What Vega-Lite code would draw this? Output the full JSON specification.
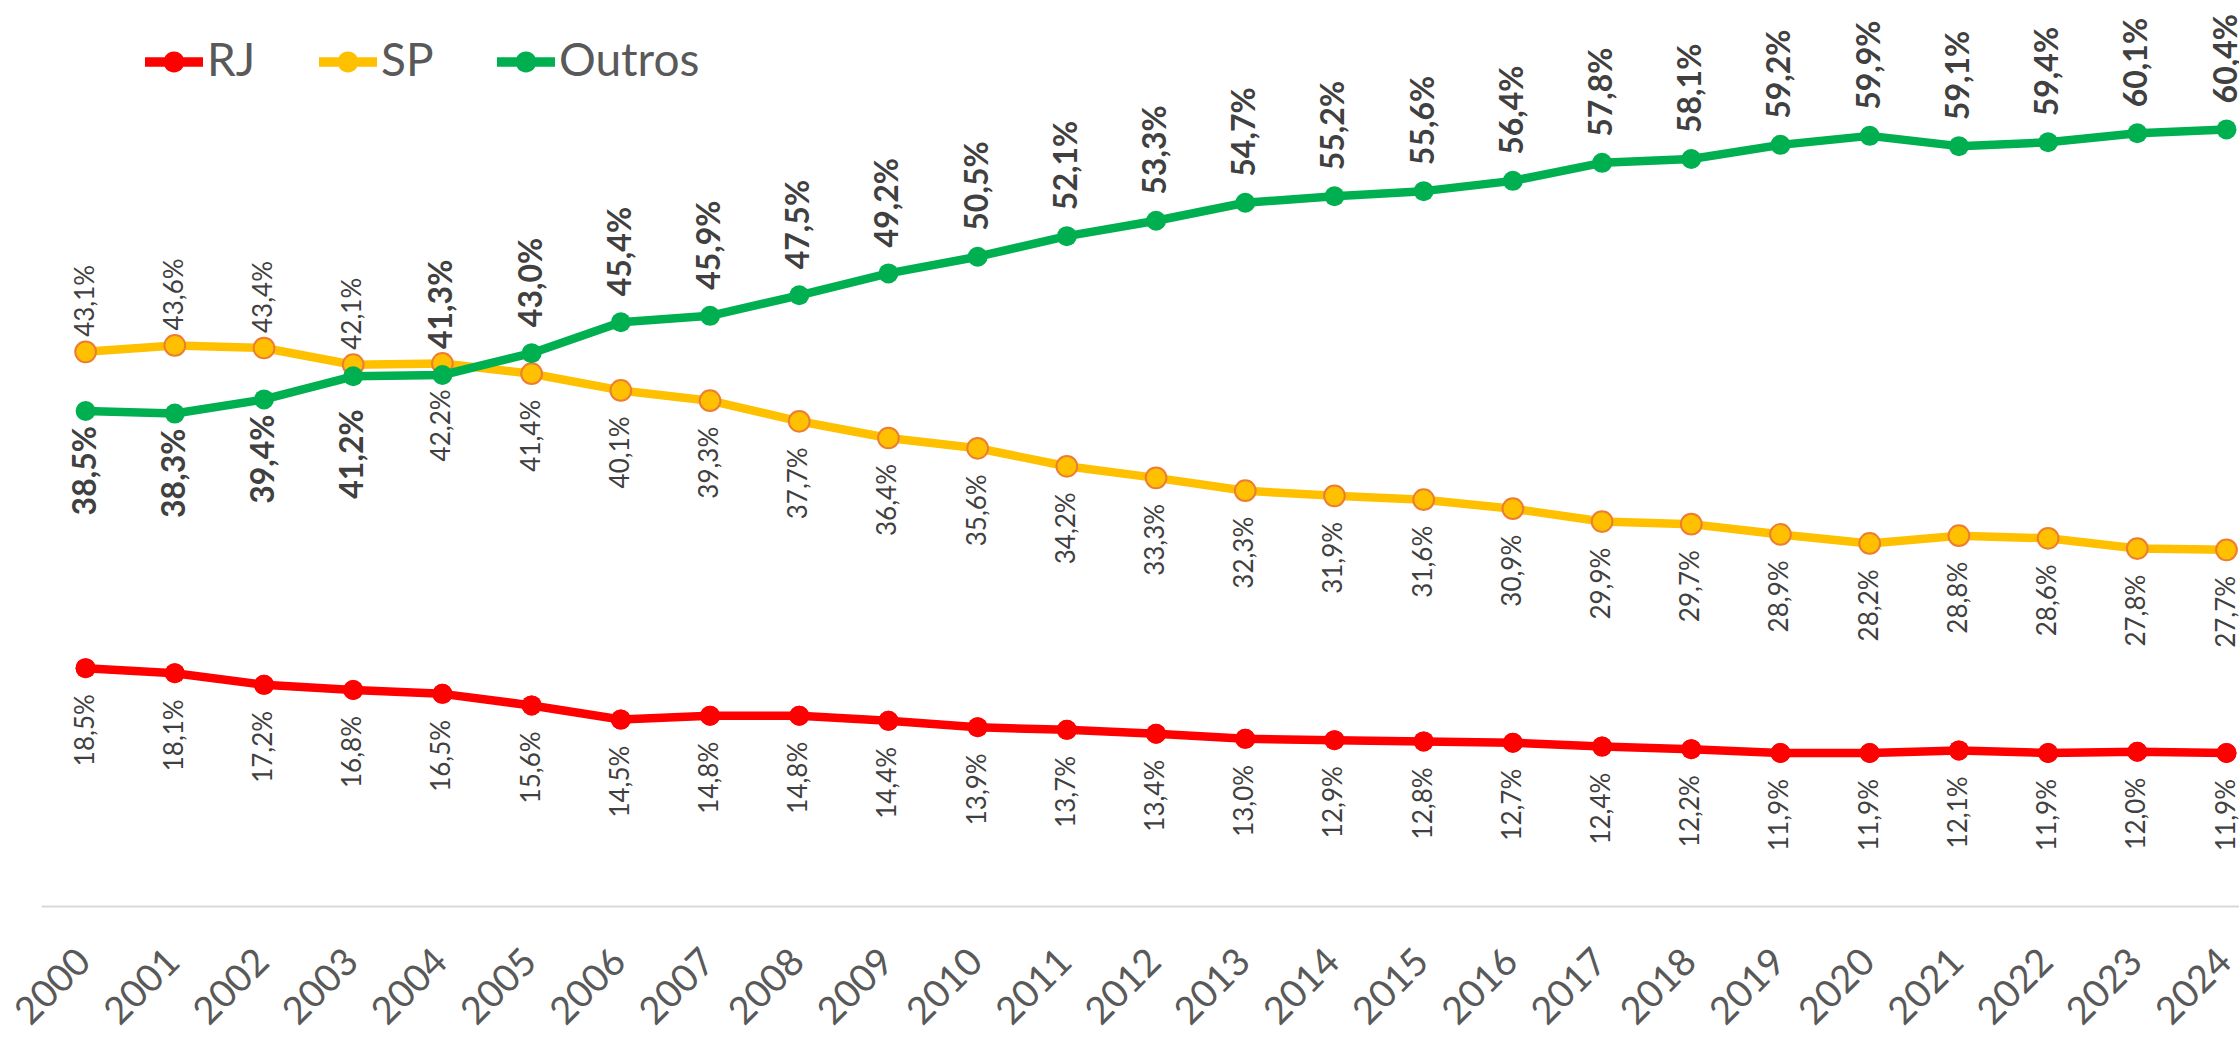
{
  "$schema": "https://vega.github.io/schema/vega-lite/v6.json",
  "width": 2198,
  "height": 900,
  "autosize": {"type": "none"},
  "padding": {"left": 41, "top": 6, "right": 0, "bottom": 132},
  "background": "white",
  "config": {"view": {"stroke": null}, "font": "Lato"},
  "data": {"values": [
    {"year": 2000, "series": "RJ", "v": 18.5}, {"year": 2001, "series": "RJ", "v": 18.1}, {"year": 2002, "series": "RJ", "v": 17.2}, {"year": 2003, "series": "RJ", "v": 16.8}, {"year": 2004, "series": "RJ", "v": 16.5},
    {"year": 2005, "series": "RJ", "v": 15.6}, {"year": 2006, "series": "RJ", "v": 14.5}, {"year": 2007, "series": "RJ", "v": 14.8}, {"year": 2008, "series": "RJ", "v": 14.8}, {"year": 2009, "series": "RJ", "v": 14.4},
    {"year": 2010, "series": "RJ", "v": 13.9}, {"year": 2011, "series": "RJ", "v": 13.7}, {"year": 2012, "series": "RJ", "v": 13.4}, {"year": 2013, "series": "RJ", "v": 13.0}, {"year": 2014, "series": "RJ", "v": 12.9},
    {"year": 2015, "series": "RJ", "v": 12.8}, {"year": 2016, "series": "RJ", "v": 12.7}, {"year": 2017, "series": "RJ", "v": 12.4}, {"year": 2018, "series": "RJ", "v": 12.2}, {"year": 2019, "series": "RJ", "v": 11.9},
    {"year": 2020, "series": "RJ", "v": 11.9}, {"year": 2021, "series": "RJ", "v": 12.1}, {"year": 2022, "series": "RJ", "v": 11.9}, {"year": 2023, "series": "RJ", "v": 12.0}, {"year": 2024, "series": "RJ", "v": 11.9},
    {"year": 2000, "series": "SP", "v": 43.1}, {"year": 2001, "series": "SP", "v": 43.6}, {"year": 2002, "series": "SP", "v": 43.4}, {"year": 2003, "series": "SP", "v": 42.1}, {"year": 2004, "series": "SP", "v": 42.2},
    {"year": 2005, "series": "SP", "v": 41.4}, {"year": 2006, "series": "SP", "v": 40.1}, {"year": 2007, "series": "SP", "v": 39.3}, {"year": 2008, "series": "SP", "v": 37.7}, {"year": 2009, "series": "SP", "v": 36.4},
    {"year": 2010, "series": "SP", "v": 35.6}, {"year": 2011, "series": "SP", "v": 34.2}, {"year": 2012, "series": "SP", "v": 33.3}, {"year": 2013, "series": "SP", "v": 32.3}, {"year": 2014, "series": "SP", "v": 31.9},
    {"year": 2015, "series": "SP", "v": 31.6}, {"year": 2016, "series": "SP", "v": 30.9}, {"year": 2017, "series": "SP", "v": 29.9}, {"year": 2018, "series": "SP", "v": 29.7}, {"year": 2019, "series": "SP", "v": 28.9},
    {"year": 2020, "series": "SP", "v": 28.2}, {"year": 2021, "series": "SP", "v": 28.8}, {"year": 2022, "series": "SP", "v": 28.6}, {"year": 2023, "series": "SP", "v": 27.8}, {"year": 2024, "series": "SP", "v": 27.7},
    {"year": 2000, "series": "Outros", "v": 38.5}, {"year": 2001, "series": "Outros", "v": 38.3}, {"year": 2002, "series": "Outros", "v": 39.4}, {"year": 2003, "series": "Outros", "v": 41.2}, {"year": 2004, "series": "Outros", "v": 41.3},
    {"year": 2005, "series": "Outros", "v": 43.0}, {"year": 2006, "series": "Outros", "v": 45.4}, {"year": 2007, "series": "Outros", "v": 45.9}, {"year": 2008, "series": "Outros", "v": 47.5}, {"year": 2009, "series": "Outros", "v": 49.2},
    {"year": 2010, "series": "Outros", "v": 50.5}, {"year": 2011, "series": "Outros", "v": 52.1}, {"year": 2012, "series": "Outros", "v": 53.3}, {"year": 2013, "series": "Outros", "v": 54.7}, {"year": 2014, "series": "Outros", "v": 55.2},
    {"year": 2015, "series": "Outros", "v": 55.6}, {"year": 2016, "series": "Outros", "v": 56.4}, {"year": 2017, "series": "Outros", "v": 57.8}, {"year": 2018, "series": "Outros", "v": 58.1}, {"year": 2019, "series": "Outros", "v": 59.2},
    {"year": 2020, "series": "Outros", "v": 59.9}, {"year": 2021, "series": "Outros", "v": 59.1}, {"year": 2022, "series": "Outros", "v": 59.4}, {"year": 2023, "series": "Outros", "v": 60.1}, {"year": 2024, "series": "Outros", "v": 60.4}
  ]},
  "transform": [{"calculate": "replace(format(datum.v, '.1f'), '.', ',') + '%'", "as": "lbl"}],
  "encoding": {
    "x": {"field": "year", "type": "quantitative",
      "scale": {"domain": [1999.5, 2024.14], "nice": false, "zero": false},
      "axis": {"values": [2000,2001,2002,2003,2004,2005,2006,2007,2008,2009,2010,2011,2012,2013,2014,2015,2016,2017,2018,2019,2020,2021,2022,2023,2024],
        "format": "d", "title": null, "grid": false, "ticks": false,
        "labelAngle": -45, "labelAlign": "right", "labelBaseline": "middle",
        "labelFont": "Lato", "labelFontSize": 38, "labelColor": "#595959",
        "labelPadding": 50, "labelOffset": -1, "labelOverlap": false, "labelFlush": false, "labelBound": false,
        "domainColor": "#D9D9D9", "domainWidth": 2}},
    "y": {"field": "v", "type": "quantitative", "scale": {"domain": [0, 70], "nice": false}, "axis": null}
  },
  "layer": [
    {"transform": [{"filter": "datum.series === 'RJ'"}],
     "mark": {"type": "circle", "size": 400, "opacity": 1},
     "encoding": {"color": {"field": "series", "type": "nominal",
       "scale": {"domain": ["RJ", "SP", "Outros"], "range": ["#FF0000", "#FFC000", "#00B050"]},
       "legend": {"orient": "none", "legendX": 104, "legendY": 27, "direction": "horizontal", "title": null,
         "symbolType": "M-1,-0.16 H1 V0.16 H-1 Z M0.36,0 A0.36,0.36 0 1,1 -0.36,0 A0.36,0.36 0 1,1 0.36,0 Z",
         "symbolSize": 3364, "symbolStrokeWidth": 0, "symbolOpacity": 1,
         "labelFont": "Lato", "labelFontSize": 46, "labelColor": "#595959", "labelOffset": 4,
         "columnPadding": 63, "padding": 0, "labelLimit": 400}}}},
    {"transform": [{"filter": "datum.series === 'RJ'"}],
     "mark": {"type": "line", "strokeWidth": 8.5, "strokeJoin": "round", "color": "#FF0000"}},
    {"transform": [{"filter": "datum.series === 'RJ'"}],
     "mark": {"type": "point", "shape": "circle", "filled": true, "size": 400, "fill": "#FF0000", "opacity": 1}},
    {"transform": [{"filter": "datum.series === 'SP'"}],
     "mark": {"type": "line", "strokeWidth": 8.5, "strokeJoin": "round", "color": "#FFC000"}},
    {"transform": [{"filter": "datum.series === 'SP'"}],
     "mark": {"type": "point", "shape": "circle", "filled": true, "size": 430, "fill": "#FFC000", "stroke": "#ED7D31", "strokeWidth": 2, "opacity": 1}},
    {"transform": [{"filter": "datum.series === 'Outros'"}],
     "mark": {"type": "line", "strokeWidth": 8.5, "strokeJoin": "round", "color": "#00B050"}},
    {"transform": [{"filter": "datum.series === 'Outros'"}],
     "mark": {"type": "point", "shape": "circle", "filled": true, "size": 400, "fill": "#00B050", "opacity": 1}},
    {"transform": [{"filter": "datum.series === 'RJ'"}],
     "mark": {"type": "text", "angle": 270, "align": "right", "baseline": "middle", "dx": -26, "font": "Lato", "fontSize": 26, "fill": "#404040"},
     "encoding": {"text": {"field": "lbl"}}},
    {"transform": [{"filter": "datum.series === 'SP' && datum.year <= 2003"}],
     "mark": {"type": "text", "angle": 270, "align": "left", "baseline": "middle", "dx": 15, "font": "Lato", "fontSize": 26, "fill": "#404040"},
     "encoding": {"text": {"field": "lbl"}}},
    {"transform": [{"filter": "datum.series === 'SP' && datum.year >= 2004"}],
     "mark": {"type": "text", "angle": 270, "align": "right", "baseline": "middle", "dx": -26, "font": "Lato", "fontSize": 26, "fill": "#404040"},
     "encoding": {"text": {"field": "lbl"}}},
    {"transform": [{"filter": "datum.series === 'Outros' && datum.year <= 2002"}],
     "mark": {"type": "text", "angle": 270, "align": "right", "baseline": "middle", "dx": -15, "font": "Lato", "fontSize": 32, "fontWeight": "bold", "fill": "#404040"},
     "encoding": {"text": {"field": "lbl"}}},
    {"transform": [{"filter": "datum.series === 'Outros' && datum.year === 2003"}],
     "mark": {"type": "text", "angle": 270, "align": "right", "baseline": "middle", "dx": -33, "font": "Lato", "fontSize": 32, "fontWeight": "bold", "fill": "#404040"},
     "encoding": {"text": {"field": "lbl"}}},
    {"transform": [{"filter": "datum.series === 'Outros' && datum.year >= 2004"}],
     "mark": {"type": "text", "angle": 270, "align": "left", "baseline": "middle", "dx": 26, "font": "Lato", "fontSize": 32, "fontWeight": "bold", "fill": "#404040"},
     "encoding": {"text": {"field": "lbl"}}}
  ]
}
